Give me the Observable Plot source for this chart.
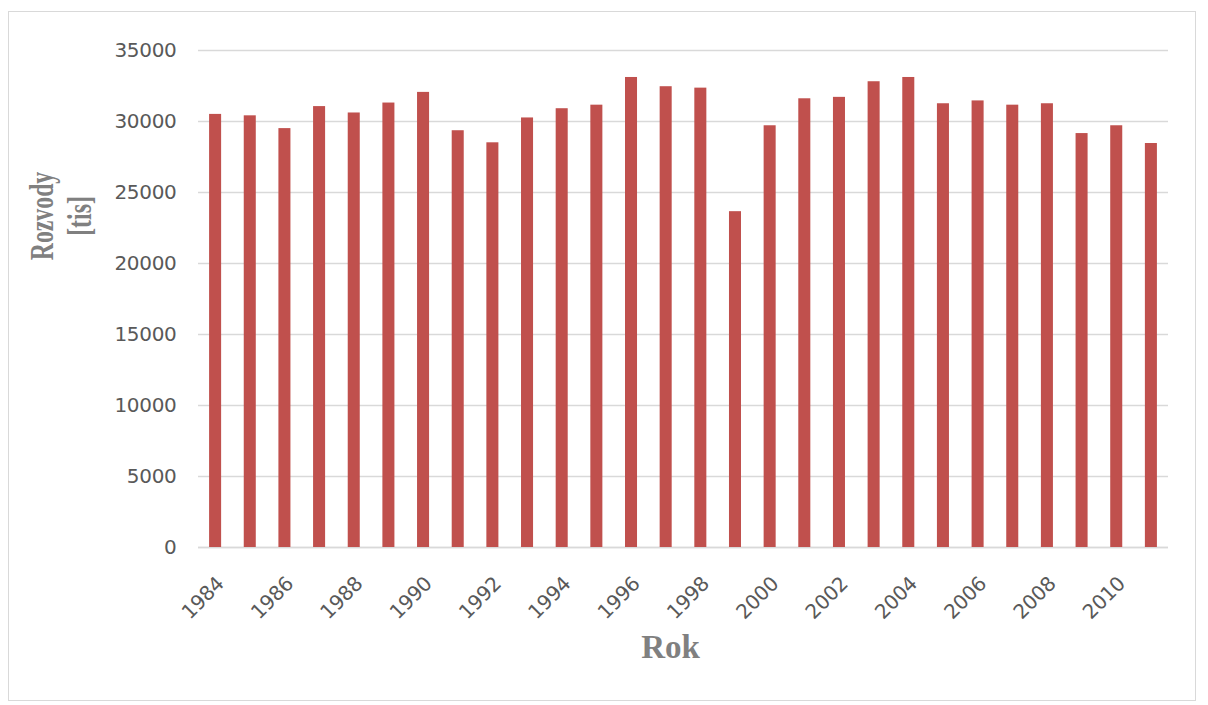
<!DOCTYPE html>
<html>
<head>
<meta charset="utf-8">
<script src="https://cdn.jsdelivr.net/npm/d3@7"></script>
<script src="https://cdn.jsdelivr.net/npm/@observablehq/plot@0.6"></script>
<style>
  html, body { margin: 0; padding: 0; background: #fff; }
  #wrap { position: relative; width: 1208px; height: 705px; }
  #border { position: absolute; left: 8px; top: 11px; width: 1188px; height: 690px; border: 1.5px solid #d9d9d9; box-sizing: border-box; }
  #chart { position: absolute; left: 0; top: 0; }
  .tick-y text, .tick-x text { letter-spacing: -0.3px; }
</style>
</head>
<body>
<div id="wrap"><div id="border"></div><div id="chart"></div></div>
<script>
const years = [1984,1985,1986,1987,1988,1989,1990,1991,1992,1993,1994,1995,1996,1997,1998,1999,2000,2001,2002,2003,2004,2005,2006,2007,2008,2009,2010,2011];
const divorces = [30500,30400,29500,31050,30600,31300,32050,29350,28500,30250,30900,31150,33100,32450,32350,23650,29700,31600,31700,32800,33100,31250,31450,31150,31250,29150,29700,28450];
const yTicks = [0,5000,10000,15000,20000,25000,30000,35000];
const yTitle = "Rozvody\n[tis]";
const xTitle = "Rok";

const data = years.map((y, i) => ({year: y, value: divorces[i]}));

const chart = Plot.plot({
  width: 1208,
  height: 705,
  marginLeft: 198,
  marginRight: 40,
  marginTop: 50,
  marginBottom: 158,
  style: {fontFamily: "DejaVu Sans", fontSize: "20px", background: "transparent"},
  x: {type: "band", domain: years, paddingInner: 0.653, paddingOuter: 0.32, round: false, label: null},
  y: {domain: [0, 35000], ticks: yTicks, label: null},
  marks: [
    Plot.gridY(yTicks, {stroke: "#d9d9d9", strokeOpacity: 1, strokeWidth: 1.3}),
    Plot.ruleY([0], {stroke: "#d9d9d9", strokeWidth: 1.5}),
    Plot.barY(data, {x: "year", y: "value", fill: "#c0504d"}),
    Plot.axisY(yTicks, {className: "tick-y", tickSize: 0, tickPadding: 22, fontSize: 20, fill: "#595959", tickFormat: d => String(d)}),
    Plot.axisX(years, {className: "tick-x", tickSize: 0, tickPadding: 33, dx: 5, tickRotate: -45, fontSize: 20, fill: "#595959",
      tickFormat: d => (d % 2 === 0 ? String(d) : "")}),
    Plot.text([yTitle], {className: "ytitle", frameAnchor: "left", dx: -139, dy: -83, rotate: -90, fontSize: 33, fontWeight: "bold",
      fontFamily: "Liberation Serif", fill: "#808080", lineHeight: 1.15, textAnchor: "middle"}),
    Plot.text([xTitle], {frameAnchor: "bottom", dx: -13, dy: 110, fontSize: 33, fontWeight: "bold",
      fontFamily: "Liberation Serif", fill: "#808080", textAnchor: "middle"})
  ]
});
document.getElementById("chart").appendChild(chart);
// condense the rotated y-axis title along its reading direction, as in the reference
d3.select(chart).selectAll(".ytitle text").each(function() {
  const t = this.getAttribute("transform") || "";
  this.setAttribute("transform", t + " scale(0.72,1)");
});
</script>
</body>
</html>
